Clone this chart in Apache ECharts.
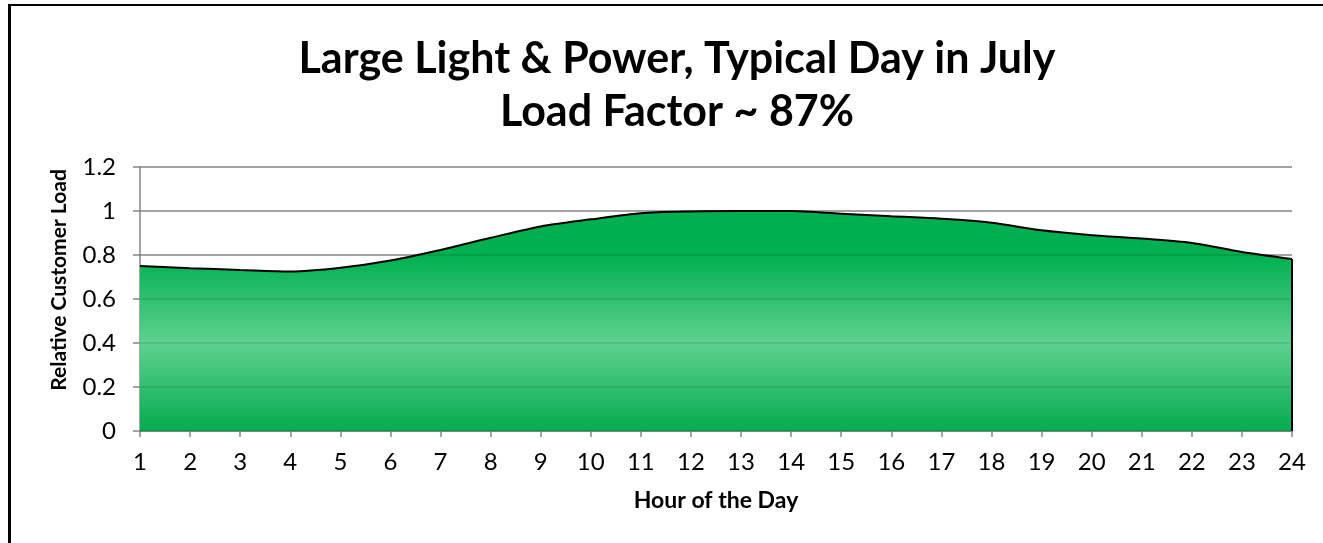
<!DOCTYPE html>
<html>
<head>
<meta charset="utf-8">
<script src="https://cdn.jsdelivr.net/npm/echarts@6/dist/echarts.min.js"></script>
<style>
html,body{margin:0;padding:0;background:#fff;overflow:hidden;}
#frame{position:absolute;left:8px;top:4px;width:1400px;height:600px;border-left:3px solid #000;border-top:2px solid #000;box-sizing:border-box;}
#chart{position:absolute;left:0;top:0;width:1323px;height:543px;}
</style>
</head>
<body>
<div id="frame"></div>
<div id="chart"></div>
<script>
const hours = ['1','2','3','4','5','6','7','8','9','10','11','12','13','14','15','16','17','18','19','20','21','22','23','24'];
const load = [0.75,0.74,0.732,0.725,0.742,0.775,0.823,0.878,0.93,0.962,0.99,0.998,1.0,1.0,0.988,0.976,0.965,0.947,0.912,0.89,0.875,0.855,0.814,0.782];
const yTicks = [0,0.2,0.4,0.6,0.8,1,1.2];
const titleText = 'Large Light & Power, Typical Day in July\nLoad Factor ~ 87%';
const xTitle = 'Hour of the Day';
const yTitle = 'Relative Customer Load';

const chart = echarts.init(document.getElementById('chart'));
const font = 'Lato, "Open Sans", sans-serif';
const yMin = yTicks[0], yMax = yTicks[yTicks.length-1];
chart.setOption({
  animation:false,
  title:{text:titleText,left:672,textAlign:'center',top:28,
    textStyle:{fontFamily:font,fontSize:43,fontWeight:'bold',color:'#000',lineHeight:53}},
  graphic:[{type:'text',x:59,y:280,rotation:Math.PI/2,
    style:{text:yTitle,font:'bold 21px Lato, "Open Sans", sans-serif',fill:'#000',textAlign:'center',textVerticalAlign:'middle'}}],
  grid:{left:140,right:31,top:167,bottom:112,containLabel:false},
  xAxis:{type:'category',data:hours,boundaryGap:false,
    name:xTitle,nameLocation:'middle',nameGap:58,
    nameTextStyle:{fontFamily:font,fontSize:23,fontWeight:'bold',color:'#000'},
    axisLine:{lineStyle:{color:'#868686',width:1.5}},
    axisTick:{show:true,length:6,lineStyle:{color:'#868686',width:1.5},alignWithLabel:true},
    axisLabel:{fontFamily:font,fontSize:24,color:'#000',margin:19}},
  yAxis:[{type:'value',min:yMin,max:yMax,interval:0.2,z:0,
    axisLine:{show:true,lineStyle:{color:'#868686',width:1.5}},
    axisTick:{show:true,length:7,lineStyle:{color:'#868686',width:1.5}},
    axisLabel:{fontFamily:font,fontSize:24,color:'#000',margin:24,formatter:v=>String(Math.round(v*10)/10)},
    splitLine:{show:true,lineStyle:{color:'#9a9a9a',width:1.5}}},
   {type:'value',min:yMin,max:yMax,interval:0.2,z:5,position:'left',
    axisLine:{show:false},axisTick:{show:false},axisLabel:{show:false},
    splitLine:{show:true,lineStyle:{color:'rgba(0,0,0,0.12)',width:1.5}}}],
  series:[{type:'line',data:load,yAxisIndex:0,smooth:0.3,symbol:'none',z:2,
    lineStyle:{color:'#000',width:2},
    areaStyle:{opacity:1,color:new echarts.graphic.LinearGradient(0,0,0,1,[
      {offset:0,color:'#00b050'},{offset:0.2,color:'#00b050'},
      {offset:0.6,color:'#5fd190'},{offset:1,color:'#05ab4f'}])},
    markLine:{silent:true,symbol:'none',label:{show:false},
      lineStyle:{color:'#000',width:2,type:'solid'},
      data:[[{coord:[hours.length-1,0]},{coord:[hours.length-1,load[load.length-1]]}]]}
  }]
});
</script>
</body>
</html>
